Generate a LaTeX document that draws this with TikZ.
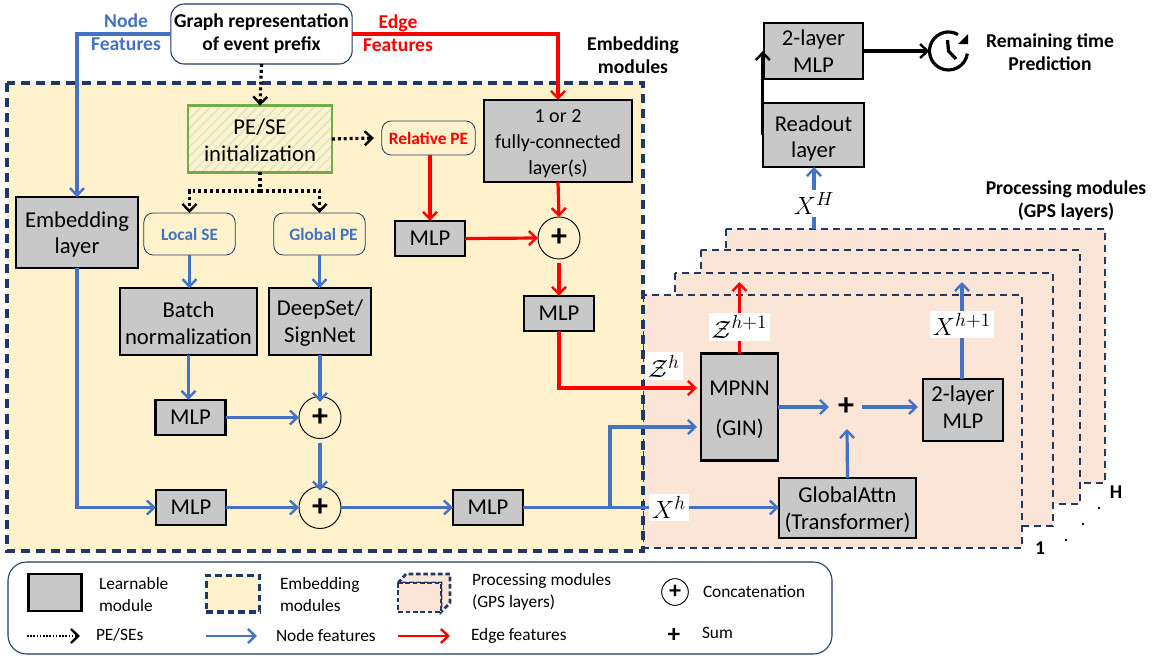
\documentclass[tikz,border=0pt]{standalone}
\usepackage{fontspec}
\setmainfont{Carlito}
\usetikzlibrary{arrows.meta}
\usetikzlibrary{patterns.meta}
\definecolor{c_blue}{HTML}{4472C4}
\definecolor{c_navy}{HTML}{1F3864}
\definecolor{c_gray}{HTML}{C8C8C8}
\definecolor{c_yellow}{HTML}{FFF2CC}
\definecolor{c_peach}{HTML}{FBE5D6}
\definecolor{c_green}{HTML}{70AD47}
\tikzset{
	node_base/.style = {
		align=center,
		inner sep=0pt,
		outer sep=0pt,
		text centered
	},
	node_learn/.style = {
		node_base,
		rectangle,
		draw=black,
		fill=c_gray,
		line width=1.8pt,
		font=\fontsize{17}{20}\selectfont
	},
	node_low/.style = {
		execute at begin node=\rule{0pt}{#1}
	},
	node_low/.default = 34.5pt,
	node_high/.style = {
		execute at end node=\rule[-4.5pt]{0pt}{0pt}
	},
	node_mlp/.style = {
		node_learn,
		minimum width=52.5pt,
		minimum height=26.5pt
	},
	node_soft/.style = {
		node_base,
		rectangle,
		rounded corners=7pt,
		draw=c_navy,
		fill=c_yellow,
		line width=0.6pt,
		font=\fontsize{13}{15}\selectfont\bfseries
	},
	node_conc/.style = {
		node_base,
		circle,
		draw=black,
		fill=c_yellow,
		line width=0.7pt,
		minimum size=31.5pt,
		font=\fontsize{24}{24}\selectfont\bfseries
	},
	node_sum/.style = {
		node_base,
		font=\fontsize{24}{24}\selectfont\bfseries
	},
	node_title/.style = {
		node_base,
		font=\fontsize{14.7}{17.2}\selectfont\bfseries
	},
	node_legend/.style = {
		node_base,
		align=left,
		anchor=west,
		font=\fontsize{13}{16}\selectfont
	},
	node_math/.style = {
		node_base,
		fill=white,
		inner sep=1.5pt,
		scale=1.3,
		font=\fontsize{15}{15}\selectfont
	},
	region_emb/.style = {
		draw=c_navy,
		fill=c_yellow,
		line width=2.5pt,
		dash pattern=on 6.8pt off 4.5pt
	},
	region_gps/.style = {
		draw=c_navy,
		fill=c_peach,
		line width=1.5pt,
		dash pattern=on 5.5pt off 3.5pt
	},
	link/.style = {
		->,
		line width=2.4pt
	},
	link_node/.style = {link, draw=c_blue},
	link_edge/.style = {link, draw=red},
	link_pe/.style = {
		link,
		draw=black,
		dash pattern=on 2.2pt off 2.2pt
	},
	link_out/.style = {link, draw=black},
	>={Straight Barb[length=5.5pt,width=10.5pt,line width=1.8pt]}
}

\begin{document}
\begin{tikzpicture}[x=0.75pt,y=-0.75pt]
\useasboundingbox (0,0) rectangle (1153,657);

% processing modules, back to front
\draw [region_gps] (726,229) rectangle (1105,483);
\draw [region_gps] (701,250) rectangle (1080,504);
\draw [region_gps] (675,273) rectangle (1053,526);
\draw [region_gps] (643,295) rectangle (1022,548);

% embedding modules
\draw [region_emb] (7,83) rectangle (643,551);

\node [node_base, draw=c_navy, fill=white, rounded corners=10pt, line width=0.8pt, minimum width=136pt, minimum height=45pt, font=\fontsize{14.7}{17.2}\selectfont\bfseries] (graph) at (261.5,34) {Graph representation\\of event prefix};
\node [node_learn, draw=c_green, fill=white, pattern={Lines[angle=45,distance=5pt,line width=1pt]}, pattern color=c_green!30, minimum width=108pt, minimum height=50pt] (init) at (260,139) {};
\node [node_base, node_low=33.5pt, font=\fontsize{17}{20}\selectfont] (inittext) at (init.center) {PE/SE\\initialization};
\node [node_soft, text=red, minimum width=70pt, minimum height=25.5pt] (relpe) at (428.5,138) {Relative PE};
\node [node_learn, node_low=52pt, font=\fontsize{15}{19.5}\selectfont, minimum width=111pt, minimum height=61.5pt] (fc) at (558,141) {1 or 2\\fully-connected\\layer(s)};
\node [node_learn, node_low, minimum width=91.5pt, minimum height=53pt] (embed) at (77,232.5) {Embedding\\layer};
\node [node_soft, text=c_blue, minimum width=68.5pt, minimum height=31.5pt] (localse) at (189.5,234) {Local SE};
\node [node_soft, text=c_blue, minimum width=68.5pt, minimum height=31.5pt] (globalpe) at (319.5,234) {\hspace*{6pt}Global PE};
\node [node_mlp] (mlprel) at (430,238.5) {MLP};
\node [node_conc] (concrel) at (559,238) {+};
\node [node_mlp] (mlpedge) at (559,313.5) {MLP};
\node [node_learn, node_low, minimum width=103pt, minimum height=50pt] (batch) at (188.5,321.5) {Batch\\normalization};
\node [node_learn, node_low, minimum width=76.5pt, minimum height=50pt] (deepset) at (320,321.5) {DeepSet/\\SignNet};
\node [node_mlp] (mlplocal) at (190.5,417.5) {MLP};
\node [node_conc] (concpe) at (320,417.5) {+};
\node [node_mlp] (mlpembed) at (191,507.5) {MLP};
\node [node_conc] (concall) at (320,507.5) {+};
\node [node_mlp] (mlpall) at (488,507.5) {MLP};

\node [node_learn, node_low=45.5pt, minimum width=58pt, minimum height=80pt] (mpnn) at (739.5,407) {MPNN\\[10pt](GIN)};
\node [node_sum] (sum) at (846,407) {+};
\node [node_learn, node_high, minimum width=60pt, minimum height=46.5pt] (mlpgps) at (963,410) {2-layer\\MLP};
\node [node_learn, node_low, minimum width=103pt, minimum height=45pt] (attn) at (847.5,508) {GlobalAttn\\(Transformer)};
\node [node_learn, node_low=37pt, minimum width=76pt, minimum height=48pt] (readout) at (813.5,135) {Readout\\layer};
\node [node_learn, minimum width=74.5pt, minimum height=42pt] (mlptop) at (813.5,51) {2-layer\\MLP};
\node [node_base, circle, minimum size=29pt] (clock) at (948.5,51) {};
\draw [line width=2.4pt] (clock.center) ++(-60:19) arc (-60:-352:19);
\draw [line width=2.4pt] (947.5,40) -- (948.5,51) -- (956,59);
\fill (968,34) -- (968,44) -- (958,44) -- cycle;

% texts
\node [node_title, text=c_blue] (nodefeat) at (126,32.5) {Node\\Features};
\node [node_title, text=red] (edgefeat) at (398,33.5) {Edge\\Features};
\node [node_title] (embtitle) at (633,55.5) {Embedding\\modules};
\node [node_title] (remtitle) at (1050,52.5) {Remaining time\\Prediction};
\node [node_title] (gpstitle) at (1066,201) {Processing modules\\(GPS layers)};
\node [node_title] (firstlayer) at (1040,548) {1};
\node [node_title] (lastlayer) at (1116,492) {H};
\node [node_base, circle, fill=black, minimum size=2pt] (dota) at (1066,540) {};
\node [node_base, circle, fill=black, minimum size=2pt] (dotb) at (1083,524) {};
\node [node_base, circle, fill=black, minimum size=2pt] (dotc) at (1099,508) {};

% helper points
\coordinate (split) at (260,191);
\coordinate (branch) at (610,507.5);
\coordinate (mpnnedge) at (697,388);
\coordinate (mpnnnode) at (697,427);
\coordinate (zout) at (739.5,282);
\coordinate (xout) at (962,282);
\coordinate (xtop) at (814,229);
\coordinate (sumleft) at (829,407);
\coordinate (sumright) at (862,407);
\coordinate (sumbelow) at (847,429);
\coordinate (gpsin) at (918,407);

% PE/SE links
\draw [link_pe] (graph.south) -- (init.north);
\draw [link_pe] (init.east) -- ([xshift=-6]relpe.west);
\draw [link_pe, -] (init.south) -- (split);
\draw [link_pe] (split) -| (localse.north);
\draw [link_pe] (split) -| (globalpe.north);

% node features
\draw [link_node] (graph.west) -| (embed.north);
\draw [link_node] (embed.south) |- (mlpembed.west);
\draw [link_node] (localse.south) -- (batch.north -| localse.south);
\draw [link_node] (batch.south) -- (mlplocal.north -| batch.south);
\draw [link_node] (globalpe.south) -- (deepset.north -| globalpe.south);
\draw [link_node] (deepset.south) -- ([yshift=-4]concpe.north);
\draw [link_node] (mlplocal.east) -- (concpe.west);
\draw [link_node, shorten <=3pt] (concpe.south) -- ([yshift=-3]concall.north);
\draw [link_node] (mlpembed.east) -- (concall.west);
\draw [link_node] (concall.east) -- (mlpall.west);
\draw [link_node, -] (mlpall.east) -- (branch);
\draw [link_node] (branch) |- (mpnnnode);
\draw [link_node] (branch) -- (attn.west |- branch) node [node_math, pos=0.35] (xin) {$X^h$};
\draw [link_node] (mpnn.east) -- (sumleft);
\draw [link_node] (sumright) -- (gpsin);
\draw [link_node] (attn.north) -- (sumbelow);
\draw [link_node] (mlpgps.north -| xout) -- (xout) node [node_math, midway, yshift=3.5] (xnext) {$X^{h+1}$};
\draw [link_node] (xtop) -- (readout.south -| xtop) node [node_math, midway, yshift=-3] (xlast) {$X^H$};

% edge features
\draw [link_edge] (graph.east) -| (fc.north);
\draw [link_edge] (relpe.south -| mlprel.north) -- (mlprel.north);
\draw [link_edge] (mlprel.east) -- (concrel.west);
\draw [link_edge] (fc.south) -- (concrel.north);
\draw [link_edge, shorten <=3pt] (concrel.south) -- (mlpedge.north);
\draw [link_edge] (mlpedge.south) |- (mpnnedge);
\draw [link_edge] (mpnn.north) -- (zout) node [node_math, midway, yshift=-5.25] (znext) {$\mathcal{Z}^{h+1}$};
\node [node_math] (zin) at (664,366) {$\mathcal{Z}^h$};

% output
\draw [link_out] (readout.west) -- (readout.west |- mlptop.west);
\draw [link_out] (mlptop.east) -- (clock.west);

% legend
\node [node_base, draw=c_navy, rounded corners=14pt, line width=0.8pt, minimum width=618pt, minimum height=69pt] (legend) at (420,608) {};
\node [node_learn, minimum width=40pt, minimum height=27.5pt] (keylearn) at (55,592.5) {};
\node [node_legend] (keylearntext) at (99,594.5) {Learnable\\module};
\node [node_base, draw=c_navy, fill=c_yellow, line width=2.5pt, dash pattern=on 5pt off 3pt, minimum width=40pt, minimum height=27.5pt] (keyemb) at (233,593.5) {};
\node [node_legend] (keyembtext) at (280,594.5) {Embedding\\modules};
\draw [region_gps, line width=2pt, dash pattern=on 3.5pt off 2pt] (398,583) -- (406,574) -- (450,574) -- (450,603) -- (441,612) -- (441,583) -- cycle;
\draw [region_gps, line width=2pt, dash pattern=on 3.5pt off 2pt] (398,583) rectangle (441,612);
\node [node_legend] (keygpstext) at (472,592) {Processing modules\\(GPS layers)};
\node [node_conc, fill=white, minimum size=20pt, font=\fontsize{18}{18}\selectfont\bfseries] (keyconc) at (675,592) {+};
\node [node_legend] (keyconctext) at (703,592) {Concatenation};
\node [node_sum, font=\fontsize{19}{19}\selectfont\bfseries] (keysum) at (674,635) {+};
\node [node_legend] (keysumtext) at (702,633) {Sum};
\coordinate (keypea) at (27,636);
\coordinate (keypeb) at (80,636);
\coordinate (keynodea) at (206,636);
\coordinate (keynodeb) at (257,636);
\coordinate (keyedgea) at (398,636);
\coordinate (keyedgeb) at (450,636);
\draw [link_pe, line width=1.2pt, dash pattern=on 1.2pt off 1.2pt] (keypea) -- (keypeb);
\draw [link_node, line width=1.4pt] (keynodea) -- (keynodeb);
\draw [link_edge, line width=1.4pt] (keyedgea) -- (keyedgeb);
\node [node_legend] (keypetext) at (96,635) {PE/SEs};
\node [node_legend] (keynodetext) at (276,636) {Node features};
\node [node_legend] (keyedgetext) at (471,636) {Edge features};
\end{tikzpicture}
\end{document}
